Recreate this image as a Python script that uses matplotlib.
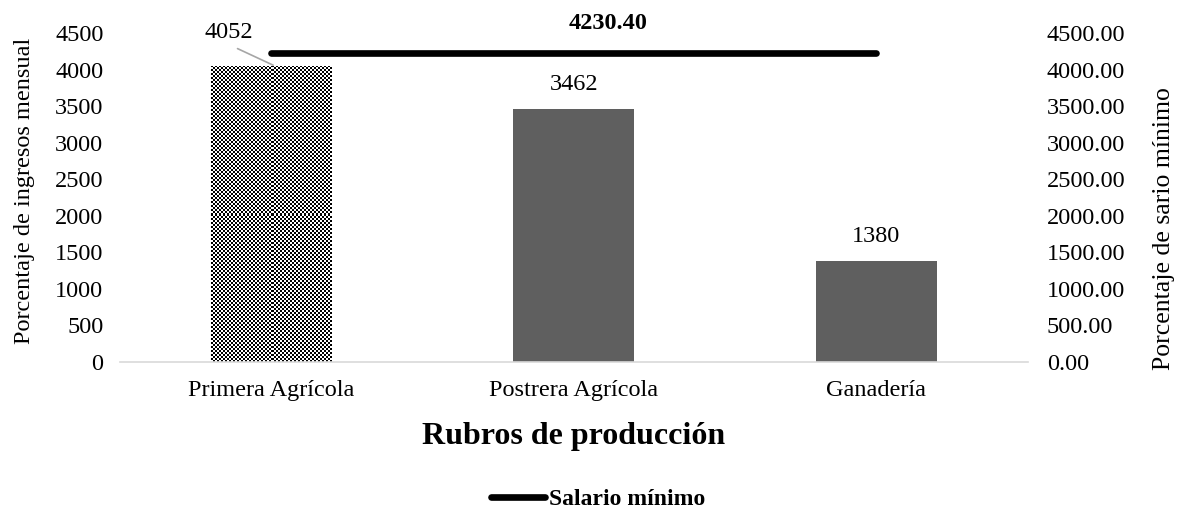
import matplotlib
matplotlib.use('Agg')
import numpy as np
import matplotlib.pyplot as plt
from matplotlib.ticker import FormatStrFormatter
from matplotlib.lines import Line2D

# datos
rubros = ['Primera Agrícola', 'Postrera Agrícola', 'Ganadería']
ingresos = [4052, 3462, 1380]
salario_minimo = 4230.40

plt.rcParams['font.family'] = ['Liberation Serif', 'DejaVu Serif']
FS = 17.5

fig = plt.figure(figsize=(11.77, 5.12), dpi=100)
ax = fig.add_axes([0.102, 0.293, 0.771, 0.6426])
ax2 = ax.twinx()

x = list(range(len(rubros)))

# barras
bars = ax.bar(x, ingresos, width=0.4, color='#5f5f5f', zorder=2)

ax.set_xlim(-0.5, 2.5)
ax.set_ylim(0, 4500)
ax2.set_ylim(0, 4500)

# textura de cuadros pequeños para la primera barra
b0 = bars[0]
b0.set_facecolor('white')
bx0, by0 = b0.get_x(), b0.get_y()
bx1, by1 = bx0 + b0.get_width(), by0 + b0.get_height()
(px0, py0), (px1, py1) = ax.transData.transform([(bx0, by0), (bx1, by1)])
celda = 2.0
nx = int(round((px1 - px0) / celda))
ny = int(round((py1 - py0) / celda))
cuadros = np.indices((ny, nx)).sum(axis=0) % 2
img = ax.imshow(cuadros, cmap='gray', extent=(bx0, bx1, by0, by1),
                interpolation='nearest', aspect='auto', zorder=2.5)
img.set_clip_path(b0)

ax.bar_label(bars, labels=[''] + [str(v) for v in ingresos[1:]],
             padding=10, fontsize=FS)
ax.annotate(str(ingresos[0]), xy=(0.01, ingresos[0]), xytext=(-0.14, 4500),
            ha='center', va='center', fontsize=FS, annotation_clip=False,
            arrowprops=dict(arrowstyle='-', color='#a6a6a6', lw=1.2,
                            relpos=(0.45, 0), shrinkA=4, shrinkB=1))

# linea salario minimo (eje secundario)
ax2.plot([x[0], x[-1]], [salario_minimo] * 2, color='black', lw=4.8,
         solid_capstyle='round')
ax2.annotate(f'{salario_minimo:.2f}', xy=(1, salario_minimo),
             xytext=(34, 29), textcoords='offset pixels',
             ha='center', va='center', fontsize=FS, fontweight='bold')

# ejes
ax.set_yticks(range(0, 4501, 500))
ax2.set_yticks(range(0, 4501, 500))
ax2.yaxis.set_major_formatter(FormatStrFormatter('%.2f'))
ax.set_xticks(x)
ax.set_xticklabels(rubros)

for a in (ax, ax2):
    for s in ('top', 'left', 'right', 'bottom'):
        a.spines[s].set_visible(False)
ax.spines['bottom'].set_visible(True)
ax.spines['bottom'].set_color('#d9d9d9')
ax.spines['bottom'].set_linewidth(1.2)

ax.tick_params(axis='y', length=0, pad=12, labelsize=FS)
ax.tick_params(axis='x', length=0, pad=13, labelsize=FS)
ax2.tick_params(axis='y', length=0, pad=14, labelsize=FS)

ax.set_ylabel('Porcentaje de ingresos mensual', fontsize=FS)
ax.yaxis.set_label_coords(-0.094, 0.52)
ax2.set_ylabel('Porcentaje de sario mínimo', fontsize=18.5)
ax2.yaxis.set_label_coords(1.138, 0.405)
ax.set_xlabel('Rubros de producción', fontsize=23, fontweight='bold', labelpad=15)

handle = Line2D([], [], color='black', lw=4.8, solid_capstyle='round')
fig.legend([handle], ['Salario mínimo'], loc='center', bbox_to_anchor=(0.508, 0.024),
           frameon=False, handlelength=2.3, handletextpad=0.15,
           prop={'size': 17, 'weight': 'bold'})

fig.savefig('out.png', dpi=100)
